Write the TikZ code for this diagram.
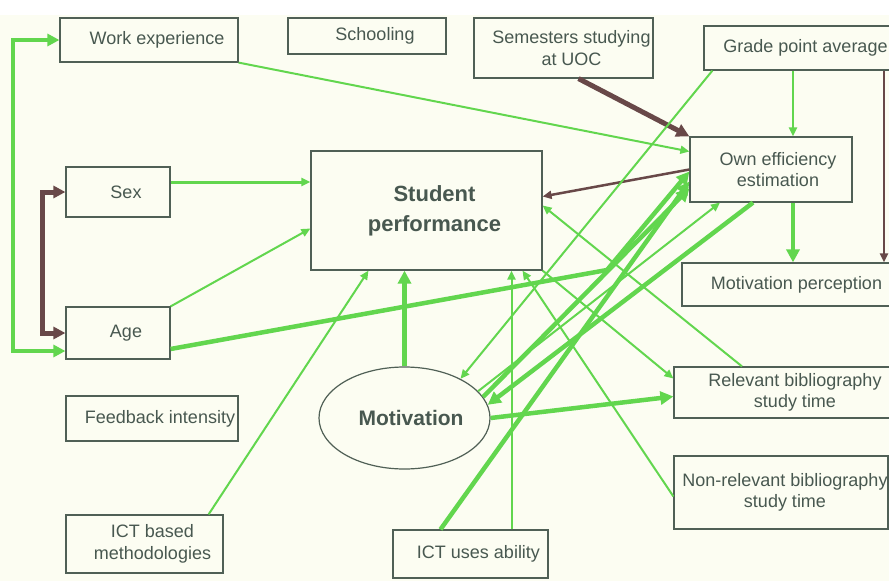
\documentclass[tikz,border=0pt]{standalone}
\usepackage{fontspec}
\setmainfont{Liberation Sans}
\usetikzlibrary{arrows.meta,shapes.geometric}
\definecolor{paper}{RGB}{252,253,242}
\definecolor{lgreen}{RGB}{98,214,78}
\definecolor{dbrown}{RGB}{104,72,72}
\definecolor{frame}{RGB}{80,96,86}
\definecolor{ink}{RGB}{72,88,80}

\begin{document}
\begin{tikzpicture}[x=1pt, y=-1pt,
    box/.style={draw=frame, line width=1.2pt, inner sep=0pt},
    boxtext/.style={text=ink, inner sep=0pt, align=center, xshift=8pt,
      font=\fontsize{18}{21.5}\selectfont},
    gline/.style={draw=lgreen, line width=2pt, -{Triangle[length=9pt,width=8pt]}},
    gthick/.style={draw=lgreen, line width=4.5pt, -{Triangle[length=13pt,width=13pt]}},
    bline/.style={draw=dbrown, line width=2.5pt, -{Triangle[length=9pt,width=8pt]}},
    bthick/.style={draw=dbrown, line width=5pt, -{Triangle[length=13pt,width=13pt]}}]
    \useasboundingbox (0,0) rectangle (889,581);
    \clip (0,0) rectangle (889,581);
    \fill[paper] (0,15) rectangle (889,581);

    % boxes
    \foreach \x/\y/\w/\h/\s/\n/\t in {
        149/40/178/44/8/wexp/{Work experience},
        367/36/158/36/8/school/{Schooling},
        563.5/48/179/60/8/sem/{Semesters studying\\at UOC},
        809.5/48/211/44/-4/gpa/{Grade point average},
        771/169.5/162/65/7/own/{Own efficiency\\estimation},
        788.5/284.5/213/43/8/motp/{Motivation perception},
        118/192/104/50/8/sex/{Sex},
        118/333/104/52/8/age/{Age},
        152/418.5/172/45/8/feed/{Feedback intensity},
        144.5/544/157/58/8/ictm/{ICT based\\methodologies},
        470.5/554/155/48/8/ictu/{ICT uses ability},
        788/392.5/228/51/7/rbst/{Relevant bibliography\\study time},
        781/492.5/214/73/4/nrbst/{Non-relevant bibliography\\study time}}
    \node[box, minimum width=\w, minimum height=\h, label={[boxtext, xshift=\s-8]center:{\t}}] (\n) at (\x,\y) {};

    \node[box, minimum width=231, minimum height=119,
        label={[boxtext, font=\fontsize{22}{30}\selectfont\bfseries]center:{Student\\performance}}] (sp) at (426.5,210.5) {};
    \node[box, ellipse, minimum width=171, minimum height=102,
        label={[boxtext, xshift=-1.5pt, font=\fontsize{21}{25}\selectfont\bfseries]center:Motivation}] (mot) at (404.5,418) {};

    % left side
    \draw[gthick, line width=4pt, {Triangle[length=12pt,width=12pt]}-{Triangle[length=12pt,width=12pt]}]
        (wexp.west) -- ++(-46,0) |- ([yshift=-18pt]age.west);
    \draw[bthick, {Triangle[length=12pt,width=12pt]}-{Triangle[length=12pt,width=12pt]}]
        (sex.west) -- ++(-23,0) |- (age.west);
    \draw[gline, line width=3pt] ([yshift=10pt]sex.east) -- ([yshift=10pt]sex.east -| sp.west);
    \draw[gline] (age.north east) -- ([yshift=-18pt]sp.west);
    \coordinate (agebend) at (607,270);
    \draw[gthick] ([yshift=-16pt]age.east) -- (agebend) -- ([yshift=-2pt]own.west);
    \draw[gline] (wexp.south east) -- ([yshift=18pt]own.west);
    \draw[gline] ([xshift=-15pt]ictm.north east) -- ([xshift=-58pt]sp.south);

    % top right
    \draw[bthick] ([xshift=15pt]sem.south) -- (own.north west);
    \draw[bline] (own.west) -- ([yshift=14pt]sp.east);
    \draw[gline] ([xshift=22pt]own.north |- gpa.south) -- ([xshift=22pt]own.north);
    \draw[gthick] ([xshift=22pt]own.south) -- ([xshift=22pt]own.south |- motp.north);
    \draw[bline, line width=2pt] ([xshift=74.5pt]gpa.south) -- ([xshift=74.5pt]gpa.south |- motp.north);
    \draw[gline] ([xshift=9pt]gpa.south west) -- (mot.35);

    % motivation
    \draw[gthick] (mot.north) -- (mot.north |- sp.south);
    \draw[gthick] (mot.east) -- ([yshift=-4pt]rbst.west);
    \draw[gthick] ([xshift=-18pt]own.south) -- (mot.9);
    \draw[gthick] (mot.15) -- ([yshift=-19pt]own.west);
    \draw[gline] (mot.20) -- ([xshift=-51pt]own.south);

    % bottom
    \draw[gline] ([xshift=41pt]ictu.north) -- ([xshift=41pt]ictu.north |- sp.south);
    \draw[gthick] ([xshift=-30pt]ictu.north) -- ([yshift=-12pt]own.west);
    \draw[gline] ([xshift=-46pt]rbst.north) -- ([yshift=5pt]sp.east);
    \draw[gline] (sp.south east) -- ([yshift=14pt]rbst.west);
    \draw[gline] ([yshift=-4pt]nrbst.west) -- ([xshift=96pt]sp.south);
\end{tikzpicture}
\end{document}
